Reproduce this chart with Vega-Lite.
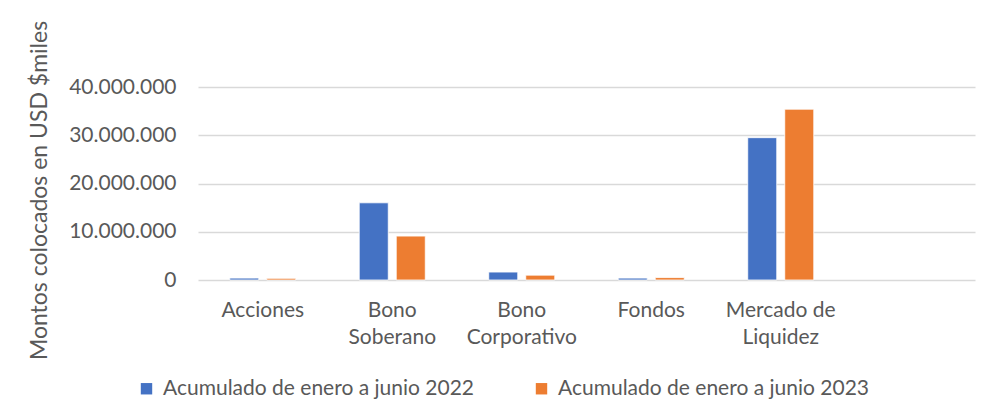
{
  "$schema": "https://vega.github.io/schema/vega-lite/v6.json",
  "autosize": "none",
  "width": 777,
  "height": 193,
  "padding": {"left": 198, "top": 87, "right": 14, "bottom": 123},
  "background": "white",
  "data": {
    "values": [
      {"categoria": "Acciones", "serie": "Acumulado de enero a junio 2022", "monto": 400000},
      {"categoria": "Acciones", "serie": "Acumulado de enero a junio 2023", "monto": 350000},
      {"categoria": "Bono Soberano", "serie": "Acumulado de enero a junio 2022", "monto": 16000000},
      {"categoria": "Bono Soberano", "serie": "Acumulado de enero a junio 2023", "monto": 9100000},
      {"categoria": "Bono Corporativo", "serie": "Acumulado de enero a junio 2022", "monto": 1650000},
      {"categoria": "Bono Corporativo", "serie": "Acumulado de enero a junio 2023", "monto": 1000000},
      {"categoria": "Fondos", "serie": "Acumulado de enero a junio 2022", "monto": 400000},
      {"categoria": "Fondos", "serie": "Acumulado de enero a junio 2023", "monto": 500000},
      {"categoria": "Mercado de Liquidez", "serie": "Acumulado de enero a junio 2022", "monto": 29500000},
      {"categoria": "Mercado de Liquidez", "serie": "Acumulado de enero a junio 2023", "monto": 35400000}
    ]
  },
  "mark": {"type": "bar", "stroke": "white", "strokeWidth": 0.8},
  "encoding": {
    "x": {
      "field": "categoria",
      "type": "nominal",
      "scale": {
        "domain": ["Acciones", "Bono Soberano", "Bono Corporativo", "Fondos", "Mercado de Liquidez", " "],
        "paddingInner": 0.49,
        "paddingOuter": 0.245
      },
      "axis": {
        "title": null,
        "labelAngle": 0,
        "ticks": false,
        "domain": false,
        "labelPadding": 19,
        "labelFont": "Lato",
        "labelFontSize": 21,
        "labelColor": "#595959",
        "labelLineHeight": 27,
        "labelBaseline": "top",
        "labelExpr": "datum.value == 'Mercado de Liquidez' ? ['Mercado de', 'Liquidez'] : split(datum.value, ' ')"
      }
    },
    "xOffset": {
      "field": "serie",
      "type": "nominal",
      "scale": {"paddingInner": 0.216, "paddingOuter": 0}
    },
    "y": {
      "field": "monto",
      "type": "quantitative",
      "scale": {"domain": [0, 40000000], "nice": false},
      "axis": {
        "title": "Montos colocados en USD $miles",
        "titleFont": "Lato",
        "titleFontSize": 23,
        "titleFontWeight": "normal",
        "titleColor": "#595959",
        "titlePadding": 17,
        "titleY": 103,
        "values": [0, 10000000, 20000000, 30000000, 40000000],
        "labelExpr": "replace(format(datum.value, ',.0f'), regexp(',', 'g'), '.')",
        "labelFont": "Lato",
        "labelFontSize": 21,
        "labelColor": "#595959",
        "labelPadding": 22,
        "ticks": false,
        "domain": false,
        "grid": true,
        "gridColor": "#D9D9D9",
        "gridWidth": 1.5
      }
    },
    "color": {
      "field": "serie",
      "type": "nominal",
      "scale": {"range": ["#4472C4", "#ED7D31"]},
      "legend": {
        "title": null,
        "orient": "none",
        "direction": "horizontal",
        "legendX": -62,
        "legendY": 291,
        "symbolType": "square",
        "symbolSize": 130,
        "symbolStrokeWidth": 0,
        "labelFont": "Lato",
        "labelFontSize": 21,
        "labelLimit": 0,
        "labelColor": "#595959",
        "columnPadding": 56,
        "labelOffset": 6
      }
    }
  },
  "config": {"view": {"stroke": null}}
}
